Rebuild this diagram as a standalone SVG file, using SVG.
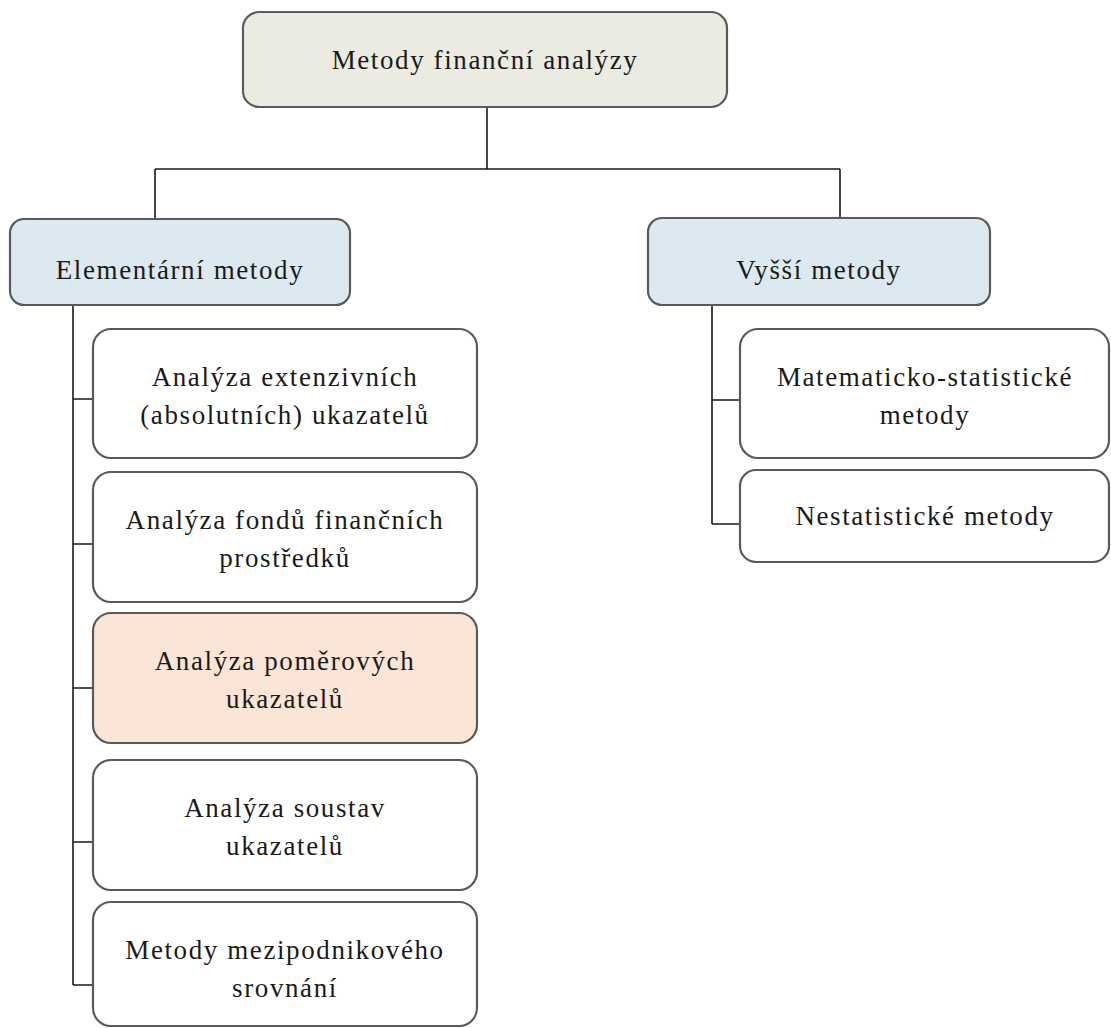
<svg xmlns="http://www.w3.org/2000/svg" width="1111" height="1028" viewBox="0 0 1111 1028">
<style>
.box{stroke:#5a5a5a;stroke-width:2.2}
.w{fill:#ffffff}
.t{font-family:"Liberation Serif","DejaVu Serif",serif;font-size:27px;letter-spacing:1.6px;fill:#1a1a1a;text-anchor:middle}
.c{fill:none;stroke:#1a1a1a;stroke-width:1.6}
</style>
<rect width="1111" height="1028" fill="#ffffff"/>
<g id="connectors">
<path class="c" d="M487 107V169M155 169H840M155 169V219M840 169V218"/>
<path class="c" d="M73 305V985M73 399H93M73 544H93M73 688H93M73 842H93M73 985H93"/>
<path class="c" d="M712 305V524M712 400H740M712 524H740"/>
</g>
<g id="root">
<rect class="box" x="243" y="12" width="484" height="95" rx="16" fill="#ecebe2"/>
<text class="t" x="485" y="69">Metody finanční analýzy</text>
</g>
<g id="elementarni">
<rect class="box" x="10" y="219" width="340" height="86" rx="14" fill="#dce9f0"/>
<text class="t" x="180" y="279">Elementární metody</text>
</g>
<g id="vyssi">
<rect class="box" x="648" y="218" width="342" height="87" rx="14" fill="#dce9f0"/>
<text class="t" x="819" y="279">Vyšší metody</text>
</g>
<g id="extenzivni">
<rect class="box w" x="93" y="329" width="384" height="129" rx="18"/>
<text class="t" x="285" y="386">Analýza extenzivních</text>
<text class="t" x="285" y="424">(absolutních) ukazatelů</text>
</g>
<g id="fondy">
<rect class="box w" x="93" y="472" width="384" height="130" rx="18"/>
<text class="t" x="285" y="529">Analýza fondů finančních</text>
<text class="t" x="285" y="567">prostředků</text>
</g>
<g id="pomerove">
<rect class="box" x="93" y="613" width="384" height="130" rx="18" fill="#fbe5d6"/>
<text class="t" x="285" y="670">Analýza poměrových</text>
<text class="t" x="285" y="708">ukazatelů</text>
</g>
<g id="soustavy">
<rect class="box w" x="93" y="760" width="384" height="130" rx="18"/>
<text class="t" x="285" y="817">Analýza soustav</text>
<text class="t" x="285" y="855">ukazatelů</text>
</g>
<g id="mezipodnikove">
<rect class="box w" x="93" y="902" width="384" height="124" rx="18"/>
<text class="t" x="285" y="959">Metody mezipodnikového</text>
<text class="t" x="285" y="997">srovnání</text>
</g>
<g id="matstat">
<rect class="box w" x="740" y="329" width="369" height="129" rx="18"/>
<text class="t" x="925" y="386">Matematicko-statistické</text>
<text class="t" x="925" y="424">metody</text>
</g>
<g id="nestat">
<rect class="box w" x="740" y="470" width="369" height="92" rx="16"/>
<text class="t" x="925" y="525">Nestatistické metody</text>
</g>
</svg>
